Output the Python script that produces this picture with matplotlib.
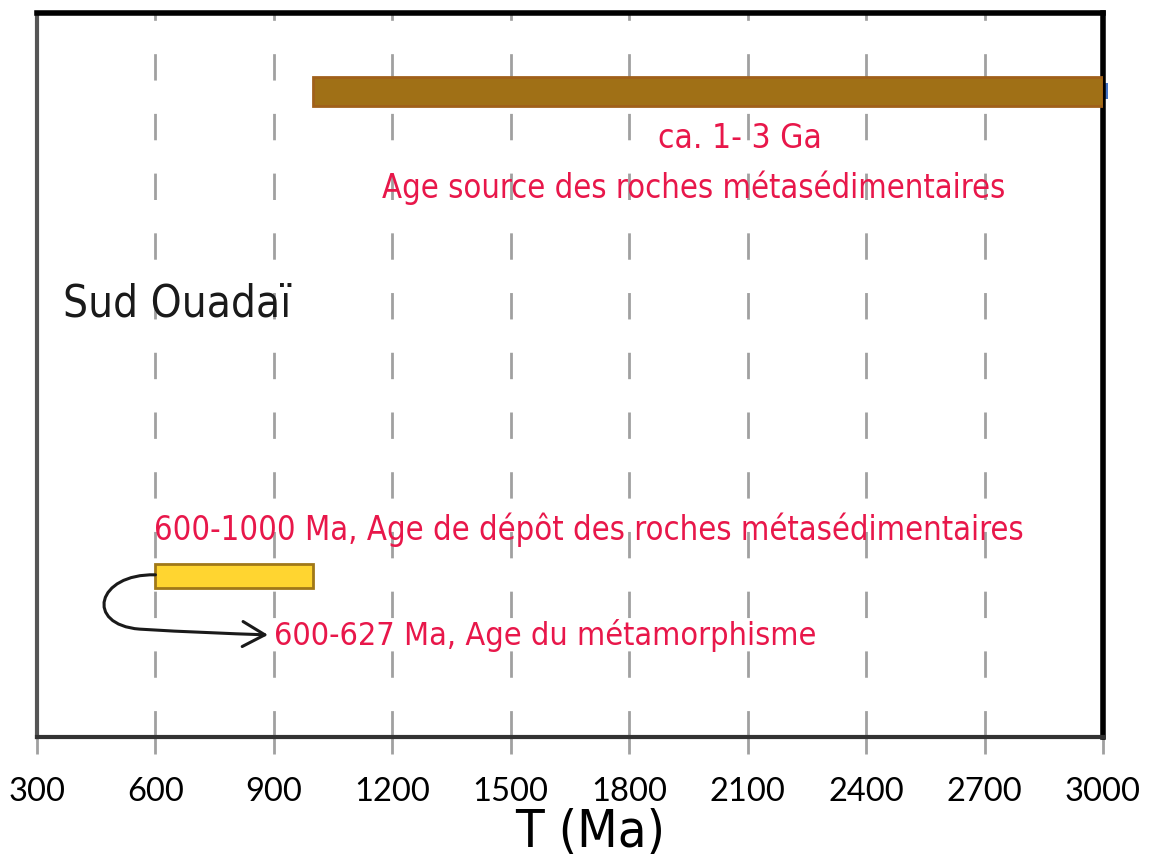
import matplotlib
matplotlib.use("Agg")
import matplotlib.pyplot as plt
from matplotlib.path import Path
from matplotlib.patches import FancyArrowPatch
from matplotlib import font_manager

# Age ranges (Ma)
periods = ["Age source", "Age de dépôt"]
starts = [1000, 600]
ends = [3000, 1000]
bar_colors = ["#A07016", "#FFD530"]
edge_colors = ["#A0601A", "#A07818"]
ticks = [300, 600, 900, 1200, 1500, 1800, 2100, 2400, 2700, 3000]

labels_source = ["ca. 1- 3 Ga", "Age source des roches métasédimentaires"]
label_depot = "600-1000 Ma, Age de dépôt des roches métasédimentaires"
label_meta = "600-627 Ma, Age du métamorphisme"
region = "Sud Ouadaï"

names = {f.name for f in font_manager.fontManager.ttflist}
if "Liberation Sans Narrow" in names:
    narrow = dict(family="Liberation Sans Narrow")
else:
    narrow = dict(family="DejaVu Sans", fontstretch="condensed")
tickfont = "Lato" if "Lato" in names else "DejaVu Sans"
red = "#E8174A"

W, H = 1153, 863
fig = plt.figure(figsize=(W / 100, H / 100), dpi=100)
ax = fig.add_axes([37 / W, 1 - 737 / H, (1103 - 37) / W, (737 - 13) / H])
ax.set_xlim(300, 3000)
ax.set_ylim(0, 10)
renderer = fig.canvas.get_renderer()


def fit_width(txt, width_px):
    """Scale a text's font size so that it spans the given width in pixels."""
    for _ in range(3):
        w = txt.get_window_extent(renderer).width
        txt.set_fontsize(txt.get_fontsize() * width_px / w)
    return txt


# dashed vertical gridlines
for t in ticks[1:-1]:
    ax.axvline(t, color="#A0A0A0", lw=2, dashes=(9.5, 12), zorder=1)

ypos = [8.92, 2.22]
heights = [0.40, 0.33]
for s, e, y, h, c, ec in zip(starts, ends, ypos, heights, bar_colors, edge_colors):
    ax.barh(y, e - s, left=s, height=h, color=c, edgecolor=ec, linewidth=2, zorder=3)
# small marker at the right end of the source bar
ax.barh(ypos[0], 12, left=ends[0], height=0.22, color="#4472C4", zorder=2, clip_on=False)

t1 = ax.text(2080, 8.27, labels_source[0], color=red, fontsize=28, ha="center", va="center", **narrow)
fit_width(t1, 164)
t2 = ax.text(1964, 7.59, labels_source[1], color=red, fontsize=28, ha="center", va="center", **narrow)
fit_width(t2, 625)
t3 = ax.text(0.024, 0.598, region, transform=ax.transAxes, color="#1a1a1a", fontsize=28,
             ha="left", va="center", **narrow)
fit_width(t3, 228)
t4 = ax.text(597, 2.86, label_depot, color=red, fontsize=28, ha="left", va="center", **narrow)
fit_width(t4, 868)
t5 = ax.text(900, 1.40, label_meta, color=red, fontsize=28, ha="left", va="center", **narrow)
fit_width(t5, 543)

# curved arrow from the start of the yellow bar to the metamorphism label
verts = [(600, 2.24), (450, 2.26), (420, 1.55), (560, 1.49),
         (680, 1.45), (780, 1.43), (885, 1.41)]
codes = [Path.MOVETO, Path.CURVE4, Path.CURVE4, Path.CURVE4,
         Path.CURVE4, Path.CURVE4, Path.CURVE4]
arrow = FancyArrowPatch(path=Path(verts, codes), arrowstyle="->,head_length=16,head_width=9",
                        color="#1a1a1a", lw=2.2, zorder=4)
ax.add_patch(arrow)

ax.set_xticks(ticks)
ax.set_xticklabels([str(t) for t in ticks], fontsize=23.5, family=tickfont)
ax.tick_params(axis="x", length=12, width=2, color="#A0A0A0", pad=17)
ax.set_yticks([])
xl = ax.set_xlabel("T (Ma)", fontsize=33, **narrow)
fit_width(xl, 150)
ax.xaxis.set_label_coords((590 - 37) / 1066, -0.098)

ax.spines["top"].set_linewidth(4)
ax.spines["right"].set_linewidth(4)
ax.spines["left"].set_linewidth(3)
ax.spines["left"].set_color("#555555")
ax.spines["bottom"].set_linewidth(3)
ax.spines["bottom"].set_color("#333333")

fig.savefig("out.png", dpi=100)
